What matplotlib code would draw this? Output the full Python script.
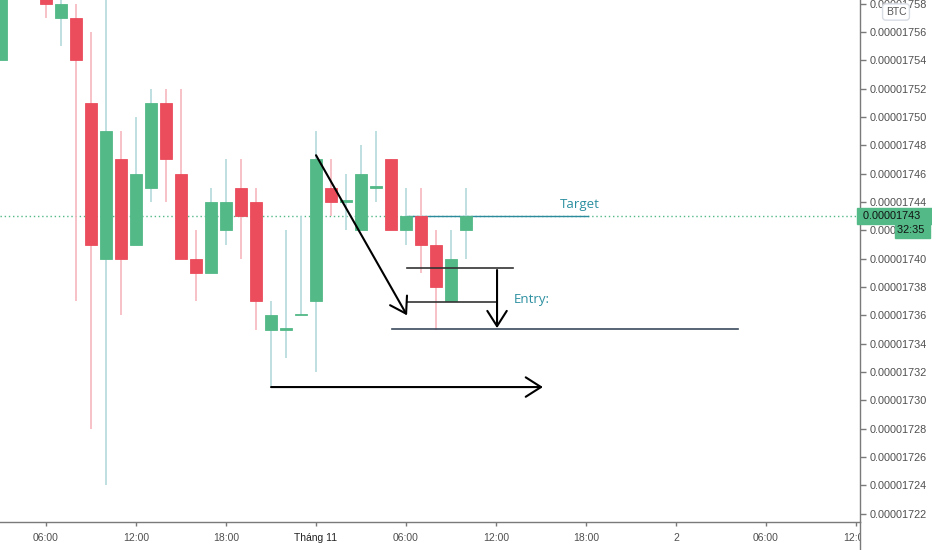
import numpy as np
import matplotlib.pyplot as plt
from matplotlib.lines import Line2D
from matplotlib.transforms import blended_transform_factory, Bbox, TransformedBbox
from matplotlib.ticker import FuncFormatter

plt.rcParams['font.family'] = ['Liberation Sans', 'DejaVu Sans']

# hourly candles, hour 0 = 1 Nov 00:00; prices in units of 1e-8 BTC
hours = np.arange(-21, 11)
opens = [1754, 1762, 1764, 1760, 1757, 1757, 1751, 1740, 1747, 1741, 1745,
         1751, 1746, 1740, 1739, 1742, 1745, 1744, 1735, 1735, 1736, 1737,
         1745, 1744, 1742, 1745, 1747, 1742, 1743, 1741, 1737, 1742]
highs = [1764, 1766, 1765, 1761, 1760, 1758, 1756, 1760, 1749, 1750, 1752,
         1752, 1752, 1742, 1745, 1747, 1747, 1745, 1737, 1742, 1743, 1749,
         1747, 1746, 1748, 1749, 1747, 1745, 1745, 1742, 1742, 1745]
lows = [1754, 1760, 1759, 1757, 1755, 1737, 1728, 1724, 1736, 1741, 1744,
        1744, 1740, 1737, 1739, 1741, 1740, 1735, 1731, 1733, 1736, 1732,
        1743, 1742, 1742, 1744, 1742, 1741, 1739, 1735, 1737, 1740]
closes = [1762, 1764, 1760, 1758, 1758, 1754, 1741, 1749, 1740, 1746, 1751,
          1747, 1740, 1739, 1744, 1744, 1743, 1737, 1736, 1735, 1736, 1747,
          1744, 1744, 1746, 1745, 1742, 1743, 1741, 1738, 1740, 1743]

last_price = 1743
price_ticks = np.arange(1722, 1759, 2)
time_ticks = [-18, -12, -6, 0, 6, 12, 18, 24, 30, 36]
time_labels = ['06:00', '12:00', '18:00', 'Tháng 11', '06:00', '12:00', '18:00',
               '2', '06:00', '12:00']

up = '#53b987'
down = '#eb4d5c'
up_wick = '#b3d9dc'
down_wick = '#f6b6be'

fig = plt.figure(figsize=(9.32, 5.5), dpi=100)
ax = fig.add_axes([0, 28 / 550, 860 / 932, 522 / 550])
ax.set_xlim(-21.07, 36.27)
ax.set_ylim(1744 - 320 / 14.17, 1744 + 202 / 14.17)

o = np.array(opens, float)
c = np.array(closes, float)
is_up = c >= o
colors = [up if u else down for u in is_up]
wcolors = [up_wick if u else down_wick for u in is_up]

ax.axhline(last_price, color=up, lw=1, ls=(0, (1, 2)), zorder=1)
ax.vlines(hours, lows, highs, colors=wcolors, lw=1.2, zorder=2)
body = np.maximum(np.abs(c - o), 0.13)
ax.bar(hours, body, bottom=np.minimum(o, c), width=0.75, color=colors,
       edgecolor=colors, lw=0.6, zorder=3)

# drawings
ax.plot([6, 18.13], [1743, 1743], color='#2b8a9c', lw=1, zorder=1.5)
ax.text(17.6, 1743.85, 'Target', color='#2b8fa0', fontsize=9.5, ha='center',
        va='center', family=['Open Sans', 'DejaVu Sans'])
ax.text(13.2, 1737.1, 'Entry:', color='#2b8fa0', fontsize=9.5, ha='left',
        va='center', family=['Open Sans', 'DejaVu Sans'])
ax.plot([6.07, 13.13], [1739.35, 1739.35], color='#333333', lw=1.2, zorder=4)
ax.plot([6.07, 12.07], [1736.94, 1736.94], color='#333333', lw=1.2, zorder=4)
ax.plot([5.07, 28.13], [1735.05, 1735.05], color='#3a4a5c', lw=1.2, zorder=4)

arrow = dict(arrowstyle='->,head_length=0.55,head_width=0.35', color='black',
             lw=1.5, shrinkA=0, shrinkB=0, mutation_scale=20)
ax.annotate('', xy=(6.07, 1736.0), xytext=(0, 1747.3), arrowprops=arrow, zorder=5)
ax.annotate('', xy=(12.07, 1735.1), xytext=(12.07, 1739.2), arrowprops=arrow, zorder=5)
ax.annotate('', xy=(15.13, 1730.94), xytext=(-3, 1730.94), arrowprops=arrow, zorder=5)

# axes styling
for s in ['top', 'left']:
    ax.spines[s].set_visible(False)
for s in ['right', 'bottom']:
    ax.spines[s].set_color('#7a7a7a')
    ax.spines[s].set_linewidth(1)
ax.yaxis.tick_right()
ax.set_yticks(price_ticks)
ax.yaxis.set_major_formatter(FuncFormatter(lambda v, pos: f'{v * 1e-8:.8f}'))
ax.tick_params(axis='y', direction='out', length=4, width=1, color='#7a7a7a',
               labelsize=7.8, labelcolor='#505050', pad=3)
ax.set_xticks(time_ticks)
ax.set_xticklabels(time_labels)
ax.tick_params(axis='x', direction='out', length=3, width=1, color='#7a7a7a',
               labelsize=7.5, labelcolor='#505050', pad=5)
ax.get_xticklabels()[3].set_color('#222222')
clip = TransformedBbox(Bbox([[0, 0], [860 / 932, 1]]), fig.transFigure)
for lab in ax.get_xticklabels():
    lab.set_clip_box(clip)
    lab.set_clip_on(True)
fig.add_artist(Line2D([860 / 932, 860 / 932], [0, 28 / 550], color='#7a7a7a', lw=1))

# price axis badges
tr = blended_transform_factory(ax.transAxes, ax.transData)
ax.text(1.0, last_price, ' 0.00001743       ', transform=tr, ha='left', va='center',
        fontsize=7.8, color='#111111', clip_on=False,
        bbox=dict(boxstyle='square,pad=0.25', fc=up, ec=up))
ax.text(1.043, last_price - 1.0, '32:35 ', transform=tr, ha='left', va='center',
        fontsize=7.8, color='#111111', clip_on=False,
        bbox=dict(boxstyle='square,pad=0.2', fc=up, ec=up))
fig.text(896 / 932, 1 - 12 / 550, 'BTC', ha='center', va='center', fontsize=7.5,
         color='#555555', bbox=dict(boxstyle='round,pad=0.3', fc='white', ec='#d8dce3'))

fig.savefig('out.png', dpi=100)
